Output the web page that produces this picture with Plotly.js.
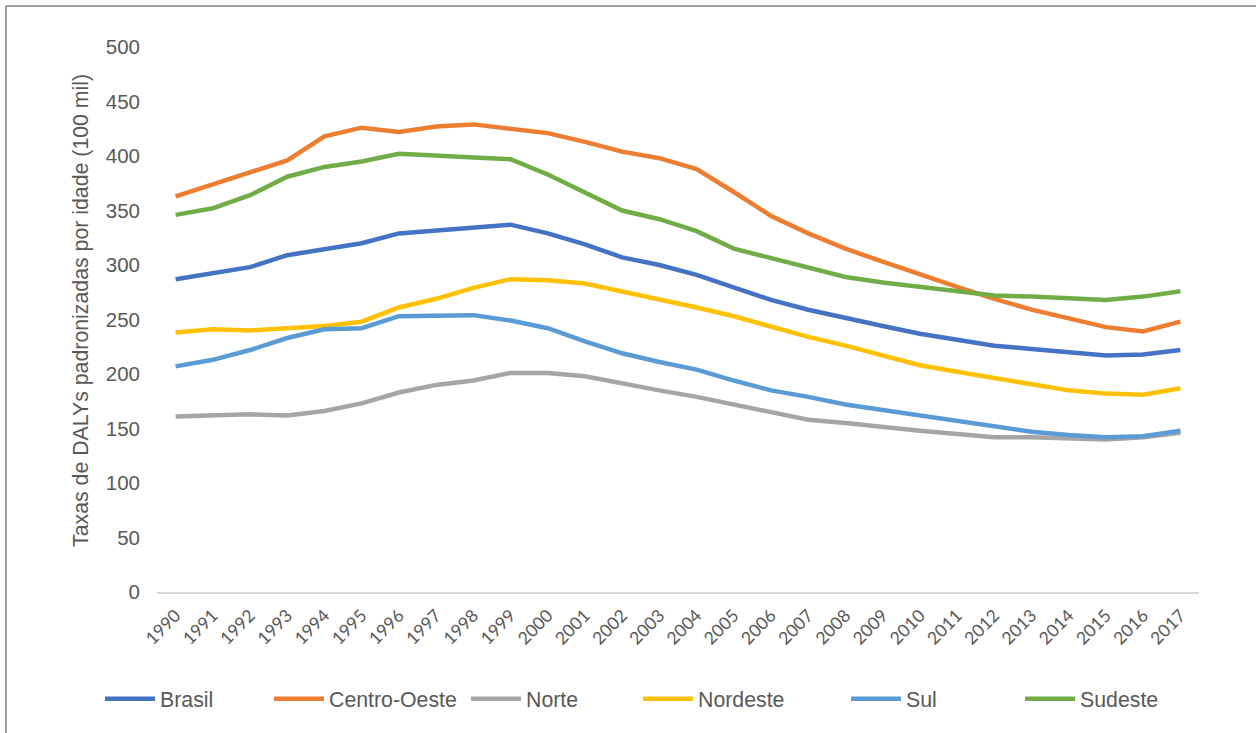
<!DOCTYPE html>
<html>
<head>
<meta charset="utf-8">
<script src="https://cdn.plot.ly/plotly-3.0.1.min.js"></script>
<style>
html,body{margin:0;padding:0;background:#fff;}
#chart{width:1256px;height:733px;}
</style>
</head>
<body>
<div id="chart"></div>
<script>
var years = ['1990','1991','1992','1993','1994','1995','1996','1997','1998','1999','2000','2001','2002','2003','2004','2005','2006','2007','2008','2009','2010','2011','2012','2013','2014','2015','2016','2017'];

var brasil      = [287,292,298,309,315,320,329,332,335,337,329,319,307,300,291,279,268,259,251,244,237,231,226,223,220,217,218,222];
var centroOeste = [363,374,386,396,418,426,422,427,429,425,421,413,404,398,388,367,345,329,315,303,291,280,269,259,251,243,239,248];
var norte       = [161,162,163,162,166,173,183,190,194,201,201,198,191,185,179,172,165,158,155,151,148,145,142,142,141,140,142,146];
var nordeste    = [238,241,240,242,244,248,261,269,279,287,286,283,276,269,261,253,243,234,226,217,208,202,196,190,185,182,181,187];
var sul         = [207,213,222,233,241,242,253,253,254,249,242,230,219,211,204,194,185,179,172,167,162,157,152,147,144,142,143,148];
var sudeste     = [346,352,364,381,390,395,402,400,398,397,383,366,350,342,331,315,306,297,289,284,280,275,272,271,270,268,271,276];

var seriesNames  = ['Brasil','Centro-Oeste','Norte','Nordeste','Sul','Sudeste'];
var seriesValues = [brasil, centroOeste, norte, nordeste, sul, sudeste];
var seriesColors = ['#4472C4','#ED7D31','#A5A5A5','#FFC000','#5B9BD5','#70AD47'];
var yTitle = 'Taxas de DALYs padronizadas por idade (100 mil)';

var W = 1256, H = 733;
var mL = 157, mR = 57, mT = 47, mB = 141;
var pw = W - mL - mR, ph = H - mT - mB;
function px2x(px){ return (px - mL) / pw; }
function py2y(py){ return (H - mB - py) / ph; }

var legendLeft = [100, 269, 466, 638, 846, 1020];
var legendKeys = ['legend','legend2','legend3','legend4','legend5','legend6'];

var traces = seriesNames.map(function(n,i){
  return {
    type:'scatter', mode:'lines', name:n, x:years, y:seriesValues[i],
    line:{color:seriesColors[i], width:4.5},
    legend: legendKeys[i],
    hoverinfo:'skip'
  };
});

var layout = {
  width:W, height:H,
  margin:{l:mL, r:mR, t:mT, b:mB, pad:0},
  paper_bgcolor:'#ffffff', plot_bgcolor:'#ffffff',
  font:{family:'"Liberation Sans", Arial, sans-serif', color:'#595959'},
  xaxis:{
    type:'category', range:[-0.5, 27.5],
    showgrid:false, zeroline:false,
    showline:true, linecolor:'#D9D9D9', linewidth:1.5,
    ticks:'', tickangle:-45, ticklabelstandoff:5,
    tickfont:{family:'Lato, "Open Sans", sans-serif', size:17.5, color:'#595959'},
    automargin:false
  },
  yaxis:{
    range:[0,500], dtick:50, tick0:0,
    showgrid:false, zeroline:false, showline:false, ticks:'',
    tickfont:{family:'"Liberation Sans", Arial, sans-serif', size:20.5, color:'#595959'},
    ticklabelstandoff:16,
    automargin:false
  },
  annotations:[
    {text:yTitle, xref:'paper', yref:'paper', x:px2x(81), y:py2y(311), xanchor:'center', yanchor:'middle',
     textangle:-90, showarrow:false, font:{family:'"Liberation Sans", Arial, sans-serif', size:21.3, color:'#595959'}}
  ],
  shapes:[
    {type:'line', xref:'paper', yref:'paper', x0:px2x(6), x1:px2x(W+5), y0:py2y(6), y1:py2y(6), line:{color:'#7F7F7F', width:1.5}},
    {type:'line', xref:'paper', yref:'paper', x0:px2x(6), x1:px2x(6), y0:py2y(6), y1:py2y(H+5), line:{color:'#7F7F7F', width:1.5}}
  ],
  showlegend:true
};

legendKeys.forEach(function(k,i){
  layout[k] = {
    x:px2x(legendLeft[i]), xanchor:'left', y:py2y(699), yanchor:'middle',
    orientation:'h', bgcolor:'rgba(0,0,0,0)', borderwidth:0,
    itemwidth:50,
    font:{family:'"Liberation Sans", Arial, sans-serif', size:21.3, color:'#595959'}
  };
});

Plotly.newPlot('chart', traces, layout, {displayModeBar:false, staticPlot:true});
</script>
</body>
</html>
